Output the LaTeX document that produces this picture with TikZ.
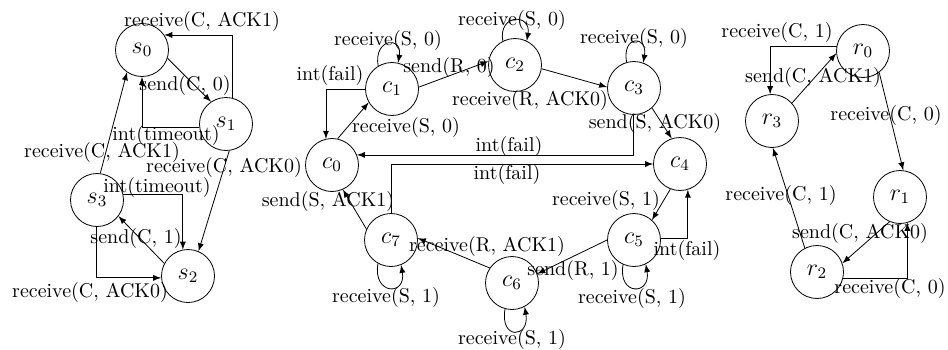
\documentclass[tikz,border=0pt]{standalone}
\usepackage{tikz}
\usetikzlibrary{arrows,positioning}

\begin{document}
\begin{tikzpicture}[x=0.5pt, y=0.5pt, >=latex,
    stnode/.style={circle, draw, minimum size=26.5pt, inner sep=0pt, font=\large},
    lbl/.style={inner sep=0pt}]
\useasboundingbox (0,0) rectangle (948,-349);

% Sender states
\node[stnode] (s0) at (142,-50) {$s_0$};
\node[stnode] (s1) at (226,-124) {$s_1$};
\node[stnode] (s2) at (188,-276) {$s_2$};
\node[stnode] (s3) at (97,-200) {$s_3$};

% Channel states
\node[stnode] (c0) at (332,-165) {$c_0$};
\node[stnode] (c1) at (392,-89) {$c_1$};
\node[stnode] (c2) at (515,-65) {$c_2$};
\node[stnode] (c3) at (634,-88) {$c_3$};
\node[stnode] (c4) at (680,-164) {$c_4$};
\node[stnode] (c5) at (634,-240) {$c_5$};
\node[stnode] (c6) at (512,-283) {$c_6$};
\node[stnode] (c7) at (391,-240) {$c_7$};

% Receiver states
\node[stnode] (r0) at (863,-51) {$r_0$};
\node[stnode] (r1) at (900,-197) {$r_1$};
\node[stnode] (r2) at (817,-272) {$r_2$};
\node[stnode] (r3) at (772,-121) {$r_3$};

% Sender transitions
\draw[->] (s0.-18) -- (s1.124);
\draw[->] (s1.77) |- (s0.34);
\draw[->] (s1.187) -| (s0.south);
\draw[->] (s3.83) -- (s0.236);
\draw[->] (s1.-83) -- (s2.67);
\draw[->] (s3.13) -| (s2.101);
\draw[->] (s2.152) -- (s3.-37);
\draw[->] (s3.-92) |- (s2.184);

\node[lbl] (ts1) at (202,-21) {receive(C, ACK1)};
\node[lbl] (ts2) at (185,-85) {send(C, 0)};
\node[lbl] (ts3) at (166,-135) {int(timeout)};
\node[lbl] (ts4) at (102,-152) {receive(C, ACK1)};
\node[lbl] (ts5) at (224,-167) {receive(C, ACK0)};
\node[lbl] (ts6) at (157,-187) {int(timeout)};
\node[lbl] (ts7) at (136,-238) {send(C, 1)};
\node[lbl] (ts8) at (90,-292) {receive(C, ACK0)};

% Channel transitions
\draw[->] (c1.121) .. controls +(100:28) and +(80:28) .. (c1.77);
\draw[->] (c1.west) -| (c0.103);
\draw[->] (c0.78) -- (c1.210);
\draw[->] (c1.4) -- (c2.172);
\draw[->] (c2.117) .. controls +(100:28) and +(80:28) .. (c2.64);
\draw[->] (c2.-8) -- (c3.178);
\draw[->] (c3.106) .. controls +(100:28) and +(80:28) .. (c3.70);
\draw[->] (c3.-92) |- (c0.22);
\draw[->] (c3.-48) -- (c4.108);
\draw[->] (c7.north) |- (c4.west);
\draw[->] (c4.249) -- (c5.48);
\draw[->] (c5.4) -| (c4.-73);
\draw[->] (c5.246) .. controls +(-100:32) and +(-80:32) .. (c5.296);
\draw[->] (c5.west) -- (c6.20);
\draw[->] (c6.255) .. controls +(-100:32) and +(-80:32) .. (c6.298);
\draw[->] (c6.146) -- (c7.4);
\draw[->] (c7.241) .. controls +(-100:32) and +(-80:32) .. (c7.292);
\draw[->] (c7.156) -- (c0.-66);

\node[lbl] (tc1) at (388,-40) {receive(S, 0)};
\node[lbl] (tc2) at (330,-75) {int(fail)};
\node[lbl] (tc3) at (406,-127) {receive(S, 0)};
\node[lbl] (tc4) at (449,-67) {send(R, 0)};
\node[lbl] (tc5) at (512,-20) {receive(S, 0)};
\node[lbl] (tc6) at (530,-100) {receive(R, ACK0)};
\node[lbl] (tc7) at (634,-38) {receive(S, 0)};
\node[lbl] (tc8) at (509,-146) {int(fail)};
\node[lbl] (tc9) at (655,-123) {send(S, ACK0)};
\node[lbl] (tc10) at (507,-174) {int(fail)};
\node[lbl] (tc11) at (606,-200) {receive(S, 1)};
\node[lbl] (tc12) at (687,-250) {int(fail)};
\node[lbl] (tc13) at (632,-298) {receive(S, 1)};
\node[lbl] (tc14) at (573,-270) {send(R, 1)};
\node[lbl] (tc15) at (487,-246) {receive(R, ACK1)};
\node[lbl] (tc16) at (512,-339) {receive(S, 1)};
\node[lbl] (tc17) at (386,-297) {receive(S, 1)};
\node[lbl] (tc18) at (328,-201) {send(S, ACK1)};

% Receiver transitions
\draw[->] (r0.170) -| (r3.94);
\draw[->] (r3.42) -- (r0.185);
\draw[->] (r0.-53) -- (r1.83);
\draw[->] (r1.247) -- (r2.19);
\draw[->] (r2.-13) -| (r1.-74);
\draw[->] (r2.117) -- (r3.-88);

\node[lbl] (tr1) at (777,-32) {receive(C, 1)};
\node[lbl] (tr2) at (813,-77) {send(C, ACK1)};
\node[lbl] (tr3) at (886,-115) {receive(C, 0)};
\node[lbl] (tr4) at (781,-195) {receive(C, 1)};
\node[lbl] (tr5) at (860,-233) {send(C, ACK0)};
\node[lbl] (tr6) at (890,-288) {receive(C, 0)};
\end{tikzpicture}
\end{document}
